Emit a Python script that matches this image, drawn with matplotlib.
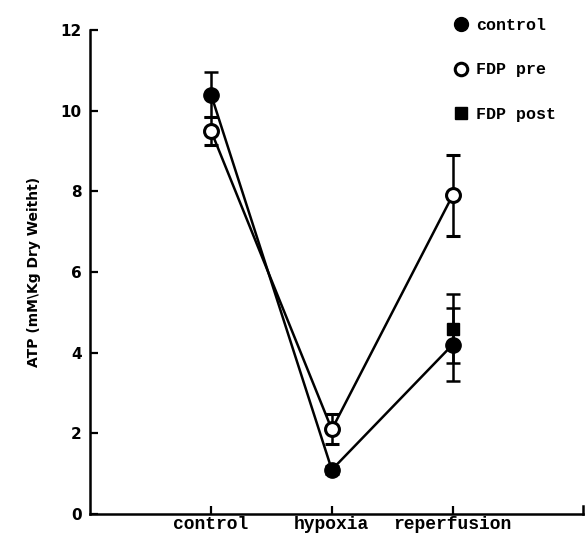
import matplotlib
matplotlib.use("Agg")
import matplotlib.pyplot as plt
from matplotlib.lines import Line2D

phases = ["control", "hypoxia", "reperfusion"]
x_pos = [1, 2, 3]

# mean ATP and SEM per phase
atp_control = [10.4, 1.1, 4.2]
err_control = [0.55, 0.1, 0.9]
atp_fdp_pre = [9.5, 2.1, 7.9]
err_fdp_pre = [0.35, 0.37, 1.0]
atp_fdp_post = [4.6]
err_fdp_post = [0.85]
x_post = [3]

y_ticks = [0, 2, 4, 6, 8, 10, 12]

fig = plt.figure(figsize=(5.86, 5.35), dpi=100)
ax = fig.add_axes([0.154, 0.039, 0.841, 0.905])

lw = 1.8
ax.errorbar(x_pos, atp_fdp_pre, yerr=err_fdp_pre, color="black", lw=lw,
            elinewidth=lw, capsize=5, capthick=lw, marker="o", ms=10,
            mfc="white", mec="black", mew=2.2, zorder=3)
ax.errorbar(x_pos, atp_control, yerr=err_control, color="black", lw=lw,
            elinewidth=lw, capsize=5, capthick=lw, marker="o", ms=11,
            mfc="black", mec="black", zorder=4)
ax.errorbar(x_post, atp_fdp_post, yerr=err_fdp_post, color="black", lw=lw,
            elinewidth=lw, capsize=5, capthick=lw, marker="s", ms=8,
            mfc="black", mec="black", ls="none", zorder=4)

ax.set_xlim(0, 4.08)
ax.set_ylim(0, 12)
ax.set_yticks(y_ticks)
ax.set_yticklabels([str(t) for t in y_ticks], fontweight="bold",
                   fontsize=11, family="DejaVu Sans")
ax.set_xticks(x_pos)
ax.set_xticklabels(phases, fontweight="bold", fontsize=13,
                   family="Liberation Mono")
ax.tick_params(axis="both", direction="in", length=6, width=1.6, pad=6)
ax.tick_params(axis="x", pad=1)

for side in ["top", "right"]:
    ax.spines[side].set_visible(False)
for side in ["left", "bottom"]:
    ax.spines[side].set_linewidth(1.8)
# small end mark on the right of the x axis
ax.plot([4.08, 4.08], [0, 0.2], color="black", lw=1.8, clip_on=False)

ax.set_ylabel("ATP (mM\\Kg Dry Weitht)", fontweight="bold", fontsize=10,
              labelpad=14)

handles = [
    Line2D([], [], ls="none", marker="o", ms=10, mfc="black", mec="black"),
    Line2D([], [], ls="none", marker="o", ms=9, mfc="white", mec="black",
           mew=2.2),
    Line2D([], [], ls="none", marker="s", ms=8, mfc="black", mec="black"),
]
ax.legend(handles, ["control", "FDP pre", "FDP post"], frameon=False,
          loc="upper right", bbox_to_anchor=(0.975, 1.055), labelspacing=1.75,
          handletextpad=0.4, handlelength=1.0,
          prop={"family": "Liberation Mono", "weight": "bold", "size": 12})

fig.savefig("out.png", dpi=100)
